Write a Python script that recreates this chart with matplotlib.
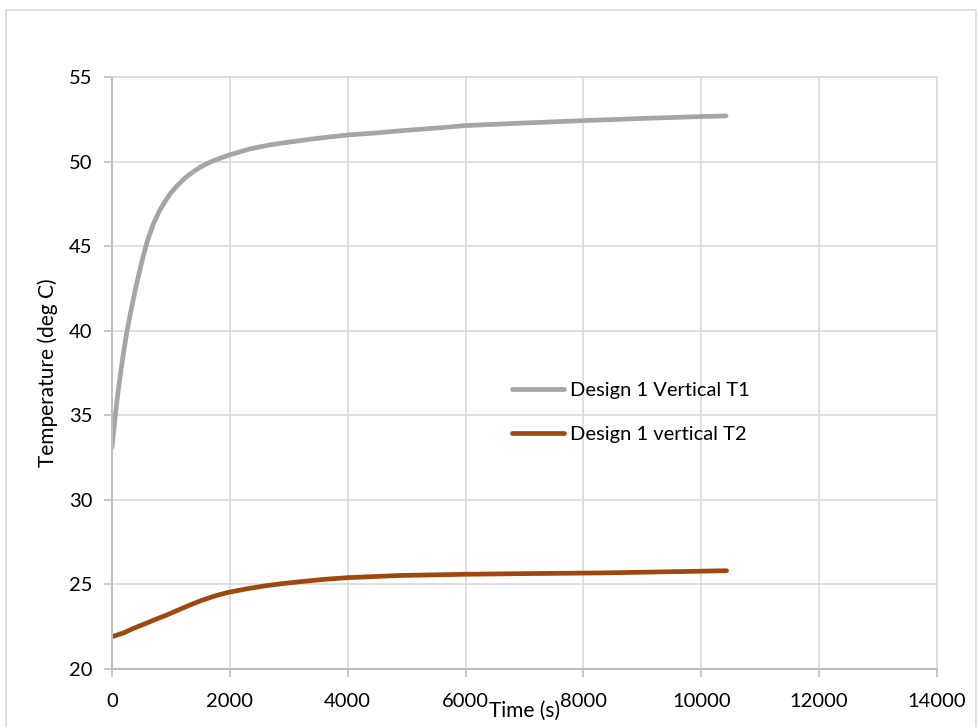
import matplotlib.pyplot as plt
from matplotlib.patches import Rectangle

# values
time_t1 = [0, 50, 100, 150, 200, 250, 300, 400, 500, 560, 600, 700, 800, 900, 1000,
           1100, 1200, 1300, 1400, 1500, 1600, 1700, 1800, 1900, 2000, 2342, 2700,
           3000, 3500, 3990, 4548, 4887, 5500, 6007, 7000, 7987, 9000, 9990, 10420]
temp_t1 = [33.1, 34.8, 36.3, 37.6, 38.8, 39.9, 40.8, 42.5, 44.0, 44.8, 45.3, 46.3, 47.05,
           47.65, 48.15, 48.55, 48.9, 49.2, 49.45, 49.67, 49.86, 50.02, 50.15, 50.28, 50.4,
           50.75, 51.0, 51.15, 51.38, 51.57, 51.71, 51.82, 51.98, 52.13, 52.28, 52.42,
           52.55, 52.66, 52.7]

time_t2 = [0, 200, 362, 550, 750, 926, 1100, 1300, 1493, 1700, 1850, 2000, 2300, 2625,
           2900, 3190, 3600, 4000, 4887, 6000, 7000, 8281, 9300, 10430]
temp_t2 = [21.91, 22.14, 22.4, 22.66, 22.95, 23.19, 23.45, 23.75, 24.02, 24.27, 24.42,
           24.55, 24.75, 24.93, 25.05, 25.16, 25.3, 25.4, 25.53, 25.6, 25.64, 25.68,
           25.74, 25.81]

x_ticks = [0, 2000, 4000, 6000, 8000, 10000, 12000, 14000]
y_ticks = [20, 25, 30, 35, 40, 45, 50, 55]

plt.rcParams['font.family'] = ['Lato', 'DejaVu Sans']

fig = plt.figure(figsize=(9.79, 7.27), dpi=100)
ax = fig.add_axes([112 / 979, 1 - 669 / 727, (937 - 112) / 979, (669 - 77) / 727])

# light frame around the whole chart, like the Excel chart area
fig.patches.append(Rectangle((6 / 979, -0.05), 970 / 979, 1.05 - 10 / 727,
                             transform=fig.transFigure, fill=False,
                             edgecolor='#d9d9d9', linewidth=1.2))

ax.plot(time_t1, temp_t1, color='#a5a5a5', linewidth=3.4, label='Design 1 Vertical T1',
        solid_capstyle='round')
ax.plot(time_t2, temp_t2, color='#9e480e', linewidth=3.4, label='Design 1 vertical T2',
        solid_capstyle='round')

ax.set_xlim(0, 14000)
ax.set_ylim(20, 55)
ax.set_xticks(x_ticks)
ax.set_yticks(y_ticks)
ax.grid(True, color='#d9d9d9', linewidth=1.2)
ax.set_axisbelow(True)

for side in ['top', 'right']:
    ax.spines[side].set_color('#d9d9d9')
    ax.spines[side].set_linewidth(1.2)
for side in ['left', 'bottom']:
    ax.spines[side].set_color('#bfbfbf')
    ax.spines[side].set_linewidth(1.5)

ax.tick_params(axis='both', colors='#bfbfbf', labelcolor='black', labelsize=14.5,
               length=6, width=1.2)
ax.tick_params(axis='x', pad=11)
ax.tick_params(axis='y', pad=8)

ax.set_xlabel('Time (s)', fontsize=15, labelpad=-6)
ax.set_ylabel('Temperature (deg C)', fontsize=15, labelpad=8)

ax.legend(loc='upper left', bbox_to_anchor=(502 / 979, 1 - 372 / 727),
          bbox_transform=fig.transFigure, frameon=False, fontsize=14.5,
          handlelength=2.6, handletextpad=0.3, labelspacing=1.35, borderpad=0)

fig.savefig('out.png', dpi=100)
